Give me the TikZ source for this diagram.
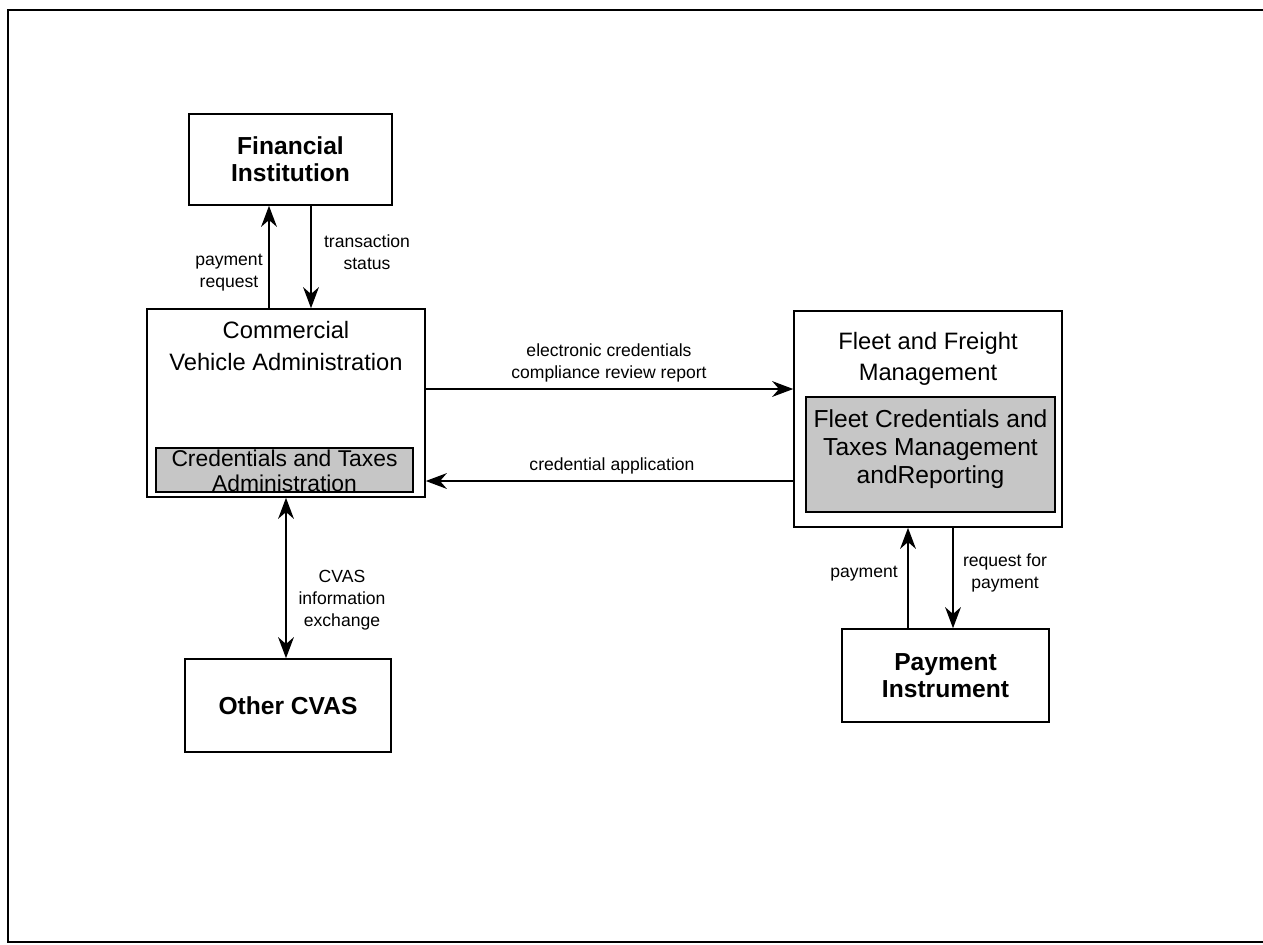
\documentclass[tikz,border=0pt]{standalone}
\usepackage{fontspec}
\setmainfont{Liberation Sans}
\usetikzlibrary{arrows.meta}
\def\u{0.02cm}
\tikzset{
  box/.style={draw, line width=0.9pt, rectangle, inner sep=0pt, fill=white},
  shaded/.style={draw, line width=0.9pt, rectangle, inner sep=0pt, fill=gray!45},
  intext/.style={align=center, font=\fontsize{14}{16}\selectfont, inner sep=0pt},
  title/.style={align=center, font=\fontsize{13.5}{18}\selectfont},
  btitle/.style={align=center, font=\fontsize{14}{15.5}\selectfont\bfseries},
  lbl/.style={align=center, font=\fontsize{10}{12.5}\selectfont, inner sep=0pt},
  arr/.style={line width=0.9pt, -{Stealth[length=12pt,width=9pt]}},
  biarr/.style={line width=0.9pt, {Stealth[length=12pt,width=9pt]}-{Stealth[length=12pt,width=9pt]}},
  frame/.style={line width=1.3pt}
}
\begin{document}
\begin{tikzpicture}[x=0.02cm, y=-0.02cm]
\useasboundingbox (0,0) rectangle (1263,944);
\draw[frame] (1263,10) -- (8,10) -- (8,942) -- (1263,942);

% boxes
\node[box, btitle, minimum width=203*\u, minimum height=91*\u] (fi) at (290.5,159.5) {Financial\\Institution};
\node[box, minimum width=278*\u, minimum height=188*\u] (cva) at (286,403) {};
\node[title] (cvat) at (286,346) {Commercial\\Vehicle Administration};
\node[shaded, minimum width=257*\u, minimum height=44*\u] (cta) at (284.5,470) {};
\begin{scope}
  \clip (cta.south west) rectangle (cta.north east);
  \node[intext, font=\fontsize{13}{16}\selectfont] (ctat) at (284.5,471) {Credentials and Taxes\\[-2pt]Administration};
\end{scope}

\node[box, minimum width=268*\u, minimum height=216*\u] (ffm) at (928,419) {};
\node[title] (ffmt) at (928,359) {Fleet and Freight\\Management};
\node[shaded, minimum width=249*\u, minimum height=115*\u] (fct) at (930.5,454.5) {};
\node[intext] (fctt) at (930.5,449) {Fleet Credentials and\\Taxes Management\\andReporting};

\node[box, btitle, minimum width=207*\u, minimum height=93*\u] (pi) at (945.5,675.5) {Payment\\Instrument};
\node[box, btitle, minimum width=206*\u, minimum height=93*\u] (oc) at (288,705.5) {Other CVAS};

% connector x / y positions
\coordinate (xpr) at (269,0);
\coordinate (xts) at (311,0);
\coordinate (yec) at (0,389);
\coordinate (yca) at (0,481);
\coordinate (xcv) at (286,0);
\coordinate (xpa) at (908,0);
\coordinate (xrp) at (953,0);

% connectors
\draw[arr] (xpr |- cva.north) -- (xpr |- fi.south);
\draw[arr] (xts |- fi.south) -- (xts |- cva.north);
\draw[arr] (cva.east |- yec) -- (ffm.west |- yec);
\draw[arr] (ffm.west |- yca) -- (cva.east |- yca);
\draw[biarr] (xcv |- cva.south) -- (xcv |- oc.north);
\draw[arr] (xpa |- pi.north) -- (xpa |- ffm.south);
\draw[arr] (xrp |- ffm.south) -- (xrp |- pi.north);

% labels
\node[lbl, anchor=east] (l1) at (263,273) {payment\\request};
\node[lbl] (l2) at (367,252) {transaction\\status};
\node[lbl] (l3) at (609,363) {electronic credentials\\compliance review report};
\node[lbl] (l4) at (612,466) {credential application};
\node[lbl] (l5) at (342,600) {CVAS\\information\\exchange};
\node[lbl] (l6) at (864,574) {payment};
\node[lbl] (l7) at (1005,573) {request for\\payment};
\end{tikzpicture}
\end{document}
